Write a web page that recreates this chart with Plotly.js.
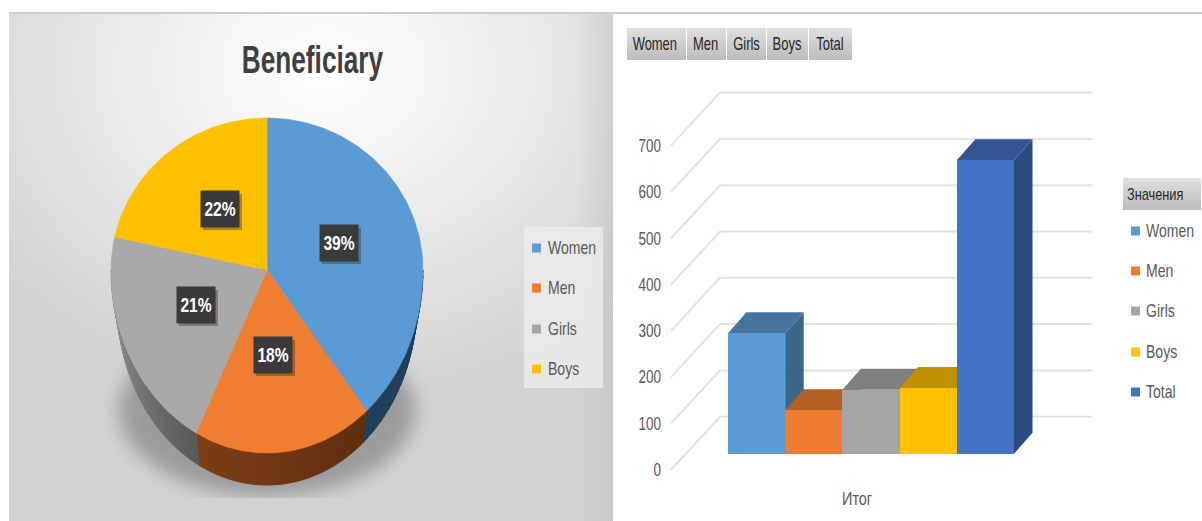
<!DOCTYPE html>
<html><head><meta charset="utf-8">
<script src="https://cdn.plot.ly/plotly-3.0.1.min.js"></script>
<style>
html,body{margin:0;padding:0;background:#fff;width:1202px;height:521px;overflow:hidden}
.bg{position:absolute}
#topline{left:9px;top:12px;width:1193px;height:2px;background:#cdcdcd}
#panel{left:9px;top:14px;width:604px;height:507px;background:radial-gradient(ellipse 420px 340px at 315px 55px,#ffffff 0%,#f1f1f1 35%,#d8d8d8 85%,#d2d2d2 100%)}
#panelEdge{left:575px;top:14px;width:38px;height:507px;background:linear-gradient(90deg,rgba(190,190,190,0),rgba(190,190,190,.45))}
#shadowClip{left:95px;top:300px;width:345px;height:198px;overflow:hidden}
#shadow{position:absolute;left:24px;top:24px;width:296px;height:172px;border-radius:50%;background:rgba(0,0,0,.26);filter:blur(9px)}
.btn{height:32px;top:28px;background:linear-gradient(180deg,#e0e0e0,#bcbcbc)}
#legendBox{left:524px;top:227px;width:79px;height:161px;background:rgba(236,236,236,.8)}
#plot{position:absolute;left:0;top:0;width:1202px;height:521px;z-index:2}
</style></head><body>
<div class="bg" id="topline"></div>
<div class="bg" id="panel"></div>
<div class="bg" id="panelEdge"></div>
<div class="bg" id="shadowClip"><div id="shadow"></div></div>
<div class="bg" id="legendBox"></div>
<div class="bg btn" style="left:627px;width:59px"></div>
<div class="bg btn" style="left:687px;width:39px"></div>
<div class="bg btn" style="left:727px;width:39px"></div>
<div class="bg btn" style="left:767px;width:41px"></div>
<div class="bg btn" style="left:809px;width:43px"></div>
<div class="bg btn" style="left:1123px;top:178px;width:78px"></div>
<div id="plot"></div>
<script>
// ---- data ----
const pieCategories = ["Women", "Men", "Girls", "Boys"];
const pieValues = [39.0, 18.49, 21.0, 21.51];
const barCategories = ["Women", "Men", "Girls", "Boys", "Total"];
const barValues = [260, 94, 138, 142, 634];
const yTicks = [0, 100, 200, 300, 400, 500, 600, 700];
const groupLabel = "Итог";
const chartTitle = "Beneficiary";
const valuesHeader = "Значения";

// ---- styles ----
const frontColors = {Women:"#5b9bd5", Men:"#ed7d31", Girls:"#a5a5a5", Boys:"#ffc000", Total:"#4472c4"};
const topColors   = {Women:"#45749f", Men:"#b45f23", Girls:"#7f7f7f", Boys:"#bf9000", Total:"#335593"};
const sideColors  = {Women:"#3a6689", Men:"#a85720", Girls:"#737373", Boys:"#b08500", Total:"#2a4a80"};
const wallFrom = {Women:[32,63,90], Men:[95,46,15], Girls:[88,88,88], Boys:[150,112,0]};
const wallTo   = {Women:[32,63,90], Men:[125,62,22], Girls:[150,150,150], Boys:[150,112,0]};
const pieTop   = {Women:"#5b9bd5", Men:"#f07e30", Girls:"#a9a9a9", Boys:"#ffc000"};
const FONT = '"Liberation Sans",sans-serif';
const W = 1202, H = 521;
const px = x => x / W, py = y => 1 - y / H;

// ---- pie (perspective disc on a hidden axis pair) ----
const RX = 156, RXB = 150, RUP = 152, RDOWN = 183, DEPTH = 32;
const rim = (deg, rx) => {
  const t = deg * Math.PI / 180, c = Math.cos(t);
  return [rx * Math.sin(t), (c > 0 ? RUP : RDOWN) * c];
};
const total = pieValues.reduce((a, b) => a + b, 0);
let start = 0;
const wallTraces = [], topTraces = [];
const lerp = (a, b, f) => a.map((v, i) => Math.round(v + (b[i] - v) * f));
const poly = (xs, ys, color, lw) => ({type:"scatter", mode:"lines", x:xs, y:ys, xaxis:"x2", yaxis:"y2",
  fill:"toself", fillcolor:color, line:{color:color, width:lw}, hoverinfo:"skip", showlegend:false});
pieCategories.forEach((name, i) => {
  const sweep = pieValues[i] / total * 360, end = start + sweep;
  const xs = [0], ys = [0];
  for (let d = start; d < end; d += 1) { const p = rim(d, RX); xs.push(p[0]); ys.push(p[1]); }
  const pe = rim(end, RX); xs.push(pe[0]); ys.push(pe[1]); xs.push(0); ys.push(0);
  topTraces.push(poly(xs, ys, pieTop[name], 0.6));
  const a = Math.max(start, 90), b = Math.min(end, 270);
  if (b > a) {
    const bands = Math.max(1, Math.ceil((b - a) / 2));
    for (let k = 0; k < bands; k++) {
      const d0 = a + (b - a) * k / bands, d1 = a + (b - a) * (k + 1) / bands;
      const p0 = rim(d0, RX), p1 = rim(d1, RX), q0 = rim(d0, RXB), q1 = rim(d1, RXB);
      const c = lerp(wallFrom[name], wallTo[name], (k + 0.5) / bands);
      wallTraces.push(poly([p0[0], p1[0], q1[0], q0[0], p0[0]],
        [p0[1], p1[1], q1[1] - DEPTH, q0[1] - DEPTH, p0[1]], `rgb(${c[0]},${c[1]},${c[2]})`, 1));
    }
  }
  start = end;
});

// ---- bars ----
const barTraces = barCategories.map((name, i) => ({
  type:"bar", name:name, x:[groupLabel], y:[barValues[i]], marker:{color:frontColors[name]}, showlegend:false,
  hovertemplate:name + ": %{y}<extra></extra>"
}));

// axis calibration: 286 px per group width, 46.3 px per 100 units
const DX = 18.5 / 286, DY = 21 / 46.3 * 100;
const BW = 1 / barCategories.length;
const WALL_DY = (453.7 - 416.7) / 46.3 * 100;
const WALL_L = (720 - 871) / 286, WALL_R = (1092 - 871) / 286, DIAG_L = (671 - 871) / 286, DIAG_DY = 53 / 46.3 * 100;
const shapes = [];
const gridLine = {color:"#e2e2e2", width:2};
yTicks.forEach(v => {
  const yb = v + WALL_DY;
  shapes.push({type:"line", xref:"x", yref:"y", layer:"below", x0:WALL_L, x1:WALL_R, y0:yb, y1:yb, line:gridLine});
  shapes.push({type:"line", xref:"x", yref:"y", layer:"below", x0:WALL_L, x1:DIAG_L, y0:yb, y1:yb - DIAG_DY, line:gridLine});
});
barCategories.forEach((name, i) => {
  const x0 = -0.5 + i * BW, x1 = x0 + BW, v = barValues[i];
  const path = pts => "M" + pts.map(p => p[0] + "," + p[1]).join("L") + "Z";
  shapes.push({type:"path", xref:"x", yref:"y", layer:"below", line:{width:0}, fillcolor:sideColors[name],
    path:path([[x1,0],[x1,v],[x1+DX,v+DY],[x1+DX,DY]])});
  shapes.push({type:"path", xref:"x", yref:"y", layer:"below", line:{width:0}, fillcolor:topColors[name],
    path:path([[x0,v],[x1,v],[x1+DX,v+DY],[x0+DX,v+DY]])});
});

// ---- text, legends, labels ----
const annotations = [], annScale = [];
const note = (x, y, text, size, color, anchor, scale) => {
  annotations.push({xref:"paper", yref:"paper", x:px(x), y:py(y), text:text, showarrow:false,
    xanchor:anchor || "left", yanchor:"middle", font:{family:FONT, size:size, color:color}});
  annScale.push(scale || 0.78);
};
note(312, 60, "<b>" + chartTitle + "</b>", 38, "#404040", "center", 0.69);

const labelPos = [[339,243],[273,355],[196,305],[220,209]];
pieValues.forEach((v, i) => {
  const c = labelPos[i];
  shapes.push({type:"rect", xref:"paper", yref:"paper", layer:"above", x0:px(c[0]-17), x1:px(c[0]+22), y0:py(c[1]-15), y1:py(c[1]+21),
    fillcolor:"rgba(60,50,30,.4)", line:{width:0}});
  shapes.push({type:"rect", xref:"paper", yref:"paper", layer:"above", x0:px(c[0]-19.5), x1:px(c[0]+19.5), y0:py(c[1]-18.5), y1:py(c[1]+18.5),
    fillcolor:"#3a3a3a", line:{width:0}});
  note(c[0], c[1], "<b>" + v.toFixed(0) + "%</b>", 20, "#ffffff", "center");
});

const square = (x, y, color) => shapes.push({type:"rect", xref:"paper", yref:"paper", layer:"above",
  x0:px(x), x1:px(x+9), y0:py(y-4.5), y1:py(y+4.5), fillcolor:color, line:{width:0}});
const pieLegendY = [248, 288, 329, 369];
pieCategories.forEach((name, i) => { square(532, pieLegendY[i], frontColors[name]); note(546, pieLegendY[i], name, 18, "#595959"); });
const barLegendY = [231, 271, 311, 352, 392];
barCategories.forEach((name, i) => { square(1131, barLegendY[i], frontColors[name]); note(1144, barLegendY[i], name, 18, "#595959"); });
note(1125, 195, valuesHeader, 17, "#262626", "left", 0.75);
const buttonX = [655, 705.5, 746.5, 787, 830];
barCategories.forEach((name, i) => note(buttonX[i], 44, name, 18, "#262626", "center", 0.72));

const layout = {
  width:W, height:H, margin:{l:0,r:0,t:0,b:0}, autosize:false,
  paper_bgcolor:"rgba(0,0,0,0)", plot_bgcolor:"rgba(0,0,0,0)",
  showlegend:false, barmode:"group", bargap:0, bargroupgap:0,
  xaxis:{domain:[px(662), px(1100)], range:[(662-871)/286, (1100-871)/286], type:"category", fixedrange:true,
    showgrid:false, zeroline:false, showline:false, ticks:"", ticklabelshift:-14, ticklabelstandoff:6,
    tickfont:{family:FONT, size:18, color:"#595959"}, anchor:"y"},
  yaxis:{domain:[py(480), py(80)], range:[-(480-453.7)/46.3*100, (453.7-80)/46.3*100], fixedrange:true,
    tickvals:yTicks, ticktext:yTicks.map(String), showgrid:false, zeroline:false, showline:false, ticks:"",
    ticklabelshift:16, ticklabelstandoff:0, tickfont:{family:FONT, size:18, color:"#595959"}, anchor:"x"},
  xaxis2:{domain:[px(9), px(613)], range:[9-267, 613-267], visible:false, fixedrange:true, anchor:"y2"},
  yaxis2:{domain:[0, py(14)], range:[270-521, 270-14], visible:false, fixedrange:true, anchor:"x2"},
  shapes:shapes, annotations:annotations
};

// The reference uses a condensed face that is not installed: narrow the real text horizontally.
function condense(el, scale, origin) {
  const b = el.getBBox();
  const o = origin === "left" ? b.x : origin === "right" ? b.x + b.width : b.x + b.width / 2;
  const old = el.getAttribute("transform") || "";
  el.setAttribute("transform", `${old} translate(${o},0) scale(${scale},1) translate(${-o},0)`);
}
Plotly.newPlot("plot", wallTraces.concat(topTraces, barTraces), layout, {displayModeBar:false, staticPlot:true}).then(gd => {
  gd.querySelectorAll(".annotation").forEach(g => {
    const i = +g.getAttribute("data-index"), t = g.querySelector("text");
    if (t) condense(t, annScale[i], annotations[i].xanchor === "left" ? "left" : "center");
  });
  gd.querySelectorAll(".ytick text").forEach(t => condense(t, 0.75, "right"));
  gd.querySelectorAll(".xtick text").forEach(t => condense(t, 0.8, "center"));
});
</script>
</body></html>
